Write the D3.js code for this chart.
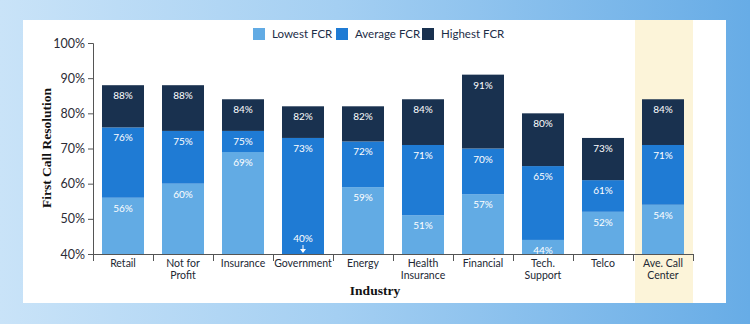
<!DOCTYPE html>
<html lang="en">

<head>
  <title></title>
  <meta charset="UTF-8">
  <style>
    body {
      margin: 0;
    }
  </style>
</head>

<body>
  <div id="container"></div>
  <script src="https://cdn.jsdelivr.net/npm/d3@7"></script>
  <script>
    const industries = ['Retail', 'Not for|Profit', 'Insurance', 'Government', 'Energy', 'Health|Insurance',
      'Financial', 'Tech.|Support', 'Telco', 'Ave. Call|Center'];
    const lowestFCR = [56, 60, 69, 40, 59, 51, 57, 44, 52, 54];
    const averageFCR = [76, 75, 75, 73, 72, 71, 70, 65, 61, 71];
    const highestFCR = [88, 88, 84, 82, 82, 84, 91, 80, 73, 84];
    const yTicks = [40, 50, 60, 70, 80, 90, 100];
    const seriesNames = ['Lowest FCR', 'Average FCR', 'Highest FCR'];
    const colors = ['#62abe4', '#1f7bd4', '#19314f'];

    const W = 750, H = 324;
    const svg = d3.select('#container').append('svg')
      .attr('width', W).attr('height', H);

    // background gradient
    const defs = svg.append('defs');
    const grad = defs.append('linearGradient').attr('id', 'bg')
      .attr('x1', '0%').attr('x2', '100%').attr('y1', '0%').attr('y2', '0%');
    grad.append('stop').attr('offset', '0%').attr('stop-color', '#c9e3f8');
    grad.append('stop').attr('offset', '45%').attr('stop-color', '#a4cff2');
    grad.append('stop').attr('offset', '100%').attr('stop-color', '#67ace6');
    svg.append('rect').attr('width', W).attr('height', H).attr('fill', 'url(#bg)');
    svg.append('rect').attr('x', 23).attr('y', 20).attr('width', 703).attr('height', 283).attr('fill', '#fff');

    const x = d3.scaleBand().domain(industries).range([93, 693]).paddingInner(0.3).paddingOuter(0.15);
    const y = d3.scaleLinear().domain([40, 100]).range([254, 43]);

    // highlight band for average
    const last = industries[industries.length - 1];
    const step = x.step();
    svg.append('rect')
      .attr('x', x(last) + x.bandwidth() / 2 - step / 2 + 2)
      .attr('y', 20).attr('width', step - 2).attr('height', 283)
      .attr('fill', '#fcf4d9');

    // data rows
    const rows = industries.map((d, i) => ({
      name: d,
      segs: [
        { lo: 40, hi: lowestFCR[i], c: colors[0] },
        { lo: lowestFCR[i], hi: averageFCR[i], c: colors[1] },
        { lo: averageFCR[i], hi: highestFCR[i], c: colors[2] }
      ]
    }));

    const g = svg.append('g');
    rows.forEach(r => {
      r.segs.forEach(s => {
        g.append('rect')
          .attr('x', x(r.name)).attr('width', x.bandwidth())
          .attr('y', y(s.hi)).attr('height', y(s.lo) - y(s.hi))
          .attr('fill', s.c);
      });
      r.segs.forEach((s, k) => {
        const zero = s.hi === s.lo;
        const ty = zero ? y(s.hi) - 12 : y(s.hi) + 14;
        g.append('text')
          .attr('x', x(r.name) + x.bandwidth() / 2).attr('y', ty)
          .attr('text-anchor', 'middle')
          .attr('font-family', 'Lato, sans-serif').attr('font-size', 10)
          .attr('fill', '#fff')
          .text(s.hi + '%');
        if (zero) {
          const cx = x(r.name) + x.bandwidth() / 2;
          g.append('line').attr('x1', cx).attr('x2', cx)
            .attr('y1', y(s.hi) - 9).attr('y2', y(s.hi) - 4)
            .attr('stroke', '#fff').attr('stroke-width', 1);
          g.append('path')
            .attr('d', `M${cx - 3},${y(s.hi) - 5}L${cx + 3},${y(s.hi) - 5}L${cx},${y(s.hi) - 1}Z`)
            .attr('fill', '#fff');
        }
      });
    });

    // y axis
    const yAxis = svg.append('g').attr('transform', 'translate(93,0)')
      .call(d3.axisLeft(y).tickValues(yTicks).tickFormat(d => d + '%').tickSize(5).tickPadding(3));
    yAxis.select('.domain').attr('stroke', '#555').attr('d', 'M-5,43.5H0.5V254.5');
    yAxis.selectAll('.tick line').attr('stroke', '#555');
    yAxis.selectAll('.tick text').attr('font-family', 'Lato, sans-serif').attr('font-size', 12.5)
      .attr('fill', '#2b2b35');

    // x axis
    const xAxis = svg.append('g').attr('transform', 'translate(0,254)');
    xAxis.append('line').attr('x1', 93).attr('x2', 694).attr('y1', 0.5).attr('y2', 0.5).attr('stroke', '#555');
    d3.range(industries.length + 1).forEach(i => {
      const tx = 93.5 + i * step;
      xAxis.append('line').attr('x1', tx).attr('x2', tx).attr('y1', 0).attr('y2', 7).attr('stroke', '#555');
    });
    // one text per line so two-line labels stay separate
    industries.forEach(d => {
      d.split('|').forEach((l, i) => {
        xAxis.append('text')
          .attr('x', x(d) + x.bandwidth() / 2).attr('y', 12.5 + i * 12.5)
          .attr('text-anchor', 'middle')
          .attr('font-family', 'Lato, sans-serif').attr('font-size', 10.5)
          .attr('fill', '#222833')
          .text(l);
      });
    });

    // axis titles
    svg.append('text').attr('x', 375).attr('y', 295).attr('text-anchor', 'middle')
      .attr('font-family', '"Liberation Serif", serif').attr('font-weight', 'bold').attr('font-size', 13.5)
      .attr('fill', '#111').text('Industry');
    svg.append('text').attr('transform', 'translate(51,148) rotate(-90)').attr('text-anchor', 'middle')
      .attr('font-family', '"Liberation Serif", serif').attr('font-weight', 'bold').attr('font-size', 13.5)
      .attr('fill', '#111').text('First Call Resolution');

    // legend
    const legendX = [253, 336, 422];
    seriesNames.forEach((n, i) => {
      svg.append('rect').attr('x', legendX[i]).attr('y', 28).attr('width', 12).attr('height', 12).attr('fill', colors[i]);
      svg.append('text').attr('x', legendX[i] + 19).attr('y', 38)
        .attr('font-family', 'Lato, sans-serif').attr('font-size', 11.5).attr('fill', '#1d2d47').text(n);
    });
  </script>
</body>

</html>
